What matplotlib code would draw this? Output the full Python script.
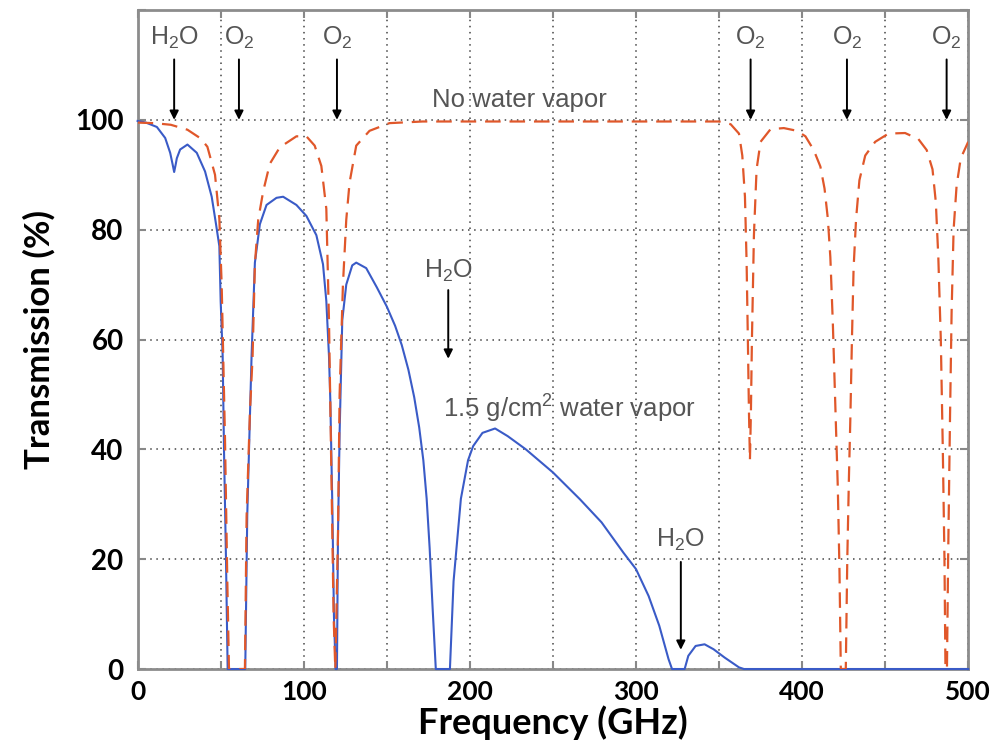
import numpy as np
import matplotlib
matplotlib.use('Agg')
import matplotlib.pyplot as plt
from matplotlib.ticker import MultipleLocator, FuncFormatter

# No water vapor (O2 only)
freq_dry = [0, 10, 20, 30, 38, 42, 46.6, 49.2, 50.6, 52.6, 54, 55,
            64.6, 65.6, 67.6, 69.2, 70.6, 72.6, 75.6, 79.6, 85.6, 95.6,
            101.6, 106.6, 110.6, 113.6, 115.2, 116.6, 118, 119, 120.6, 121.6,
            123.6, 125.6, 127.6, 131.6, 139.6, 151.6, 171.6, 200, 250, 300,
            350, 357, 362, 364, 365.6, 366.6, 367.4, 368, 368.6, 369.2, 369.8,
            371, 372.6, 375, 381, 389, 397, 402, 407, 411, 413.5, 415.5, 417,
            418.5, 420, 421.5, 422.5, 423.3, 426.3, 427.2, 428.2, 429, 430,
            431, 432.5, 434.5, 438, 444, 452, 462, 470, 475, 478.5, 480.5,
            482, 483.5, 484.7, 485.7, 486.3, 487.2, 487.9, 489, 490, 491.2,
            493, 495.5, 500]
trans_dry = [99.5, 99.4, 99.1, 98.2, 96.6, 95.1, 90, 82, 70, 42, 16, 0,
             0, 27.7, 46.6, 56.8, 73.7, 81.8, 87, 92, 95, 97,
             97, 95.3, 91.6, 83.8, 63.5, 36.5, 9.5, 0, 24, 50,
             70, 81.8, 88.6, 95.3, 98, 99.4, 99.7, 99.7, 99.7, 99.7,
             99.7, 99.2, 97.5, 93.5, 86, 74, 59, 47, 38, 47, 60,
             79, 91, 96, 98.3, 98.5, 98, 97, 94.5, 91.5, 87.5, 82, 75,
             63, 48, 33, 18, 0, 0, 20, 35, 45, 60,
             73, 82, 89, 93.5, 96, 97.5, 97.6, 96.5, 94.5, 91, 85,
             75, 60, 40, 20, 0, 0, 20, 45, 65, 80,
             88, 93, 96]

# 1.5 g/cm2 water vapor
freq_wet = [0, 5, 11.6, 16.6, 19.6, 21, 22, 23, 23.6, 25.6, 30, 35.6, 40.6,
            44.6, 47.2, 49.2, 50, 51.2, 52, 53.2, 54.2, 64.8, 66, 68.6, 70.6,
            73.6, 77.6, 83.6, 87.6, 95.6, 101.6, 107.6, 111.6, 113.6, 115.2,
            116, 117.2, 118.2, 119.2, 120, 120.6, 121.6, 123.2, 125.6, 129.2,
            131.6, 137.6, 144, 150, 155, 159, 163, 166.5, 169.5, 172, 174,
            175.8, 177.6, 179.5, 188, 190.2, 194.6, 198.9, 202, 207.6, 215.2,
            222.8, 233.7, 250, 266.3, 279.3, 292.4, 300, 307.6, 314, 319.6,
            321.7, 329.3, 331.5, 335.9, 341.3, 346.7, 353.3, 362, 365, 400,
            450, 500]
trans_wet = [99.8, 99.5, 98.7, 96.7, 94, 92, 90.5, 92, 93, 94.6, 95.5, 94, 90.6,
             86, 81, 77, 67, 57, 40, 20, 0, 0, 28, 57, 74,
             81, 84.5, 85.8, 86, 84.5, 82.5, 79, 73.7, 67, 57,
             49, 30, 9.5, 0, 0, 24, 43, 63.5, 70, 73.5,
             74, 73, 69.5, 66, 62.5, 59, 54.5, 49.5, 44, 38, 31,
             22, 11, 0, 0, 16, 31, 38, 40.6, 43, 43.8,
             42.4, 40, 35.8, 30.9, 26.7, 21.2, 18.2, 13.3, 7.9, 1.8,
             0, 0, 2.4, 4.2, 4.5, 3.6, 2.1, 0.3, 0, 0,
             0, 0]

# line markers: (label, freq, text y, arrow top, arrow tip)
marks = [
    (r'H$_2$O', 22, 115, 111, 100),
    (r'O$_2$', 61, 115, 111, 100),
    (r'O$_2$', 120, 115, 111, 100),
    (r'O$_2$', 369, 115, 111, 100),
    (r'O$_2$', 427, 115, 111, 100),
    (r'O$_2$', 487, 115, 111, 100),
    (r'H$_2$O', 187, 72.5, 69, 56.5),
    (r'H$_2$O', 327, 23.5, 19.5, 3.5),
]

plt.rcParams['mathtext.fontset'] = 'custom'
plt.rcParams['mathtext.rm'] = 'Liberation Sans'
plt.rcParams['mathtext.it'] = 'Liberation Sans'

fig = plt.figure(figsize=(9.9, 7.47), dpi=100)
ax = fig.add_axes([0.139, 0.1044, 0.839, 0.8822])

ax.plot(freq_wet, trans_wet, color='#3a5bc7', lw=1.5, zorder=3, clip_on=False)
ax.plot(freq_dry, trans_dry, color='#e0572a', lw=1.6, ls=(0, (7, 4)), zorder=4)

ax.set_xlim(0, 500)
ax.set_ylim(0, 120)
ax.xaxis.set_major_locator(MultipleLocator(50))
ax.yaxis.set_major_locator(MultipleLocator(20))
ax.xaxis.set_major_formatter(FuncFormatter(lambda v, p: f'{int(v)}' if v % 100 == 0 else ''))
ax.yaxis.set_major_formatter(FuncFormatter(lambda v, p: f'{int(v)}' if v <= 100 else ''))

ax.grid(True, linestyle=(0, (1, 3)), color='#444444', lw=1.1)
ax.tick_params(direction='in', length=6, width=1.5, color='#888888',
               top=True, right=True, labelsize=20, pad=10)
ax.tick_params(axis='x', pad=8, labelsize=19)
for lab in ax.get_xticklabels() + ax.get_yticklabels():
    lab.set_fontfamily('Lato')
    lab.set_fontweight('bold')
for s in ax.spines.values():
    s.set_color('#8c8c8c')
    s.set_linewidth(2)

ax.set_xlabel('Frequency (GHz)', fontsize=26, fontweight='bold', family='Lato', labelpad=1)
ax.set_ylabel('Transmission (%)', fontsize=25, fontweight='bold', family='Lato', labelpad=14)

txt_color = '#555555'
for label, f, ty, y0, y1 in marks:
    ax.text(f, ty, label, ha='center', va='center', fontsize=18,
            color=txt_color, family='Liberation Sans')
    ax.annotate('', xy=(f, y1), xytext=(f, y0),
                arrowprops=dict(arrowstyle='-|>', color='black', lw=1.4,
                                mutation_scale=13, shrinkA=0, shrinkB=0))

ax.text(177, 103.6, 'No water vapor', ha='left', va='center', fontsize=18.5,
        color=txt_color, family='Liberation Sans')
ax.text(184, 47.3, r'1.5 g/cm$^2$ water vapor', ha='left', va='center', fontsize=18.5,
        color=txt_color, family='Liberation Sans')

plt.savefig('out.png', dpi=100)
